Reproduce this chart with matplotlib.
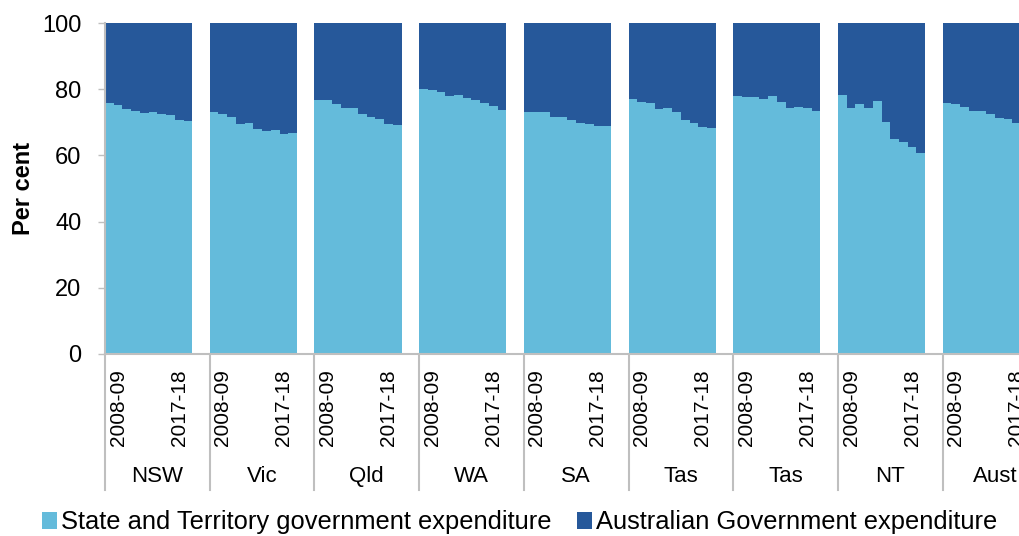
import matplotlib.pyplot as plt
import matplotlib.transforms as mtransforms
import numpy as np

plt.rcParams['font.family'] = ['Liberation Sans', 'DejaVu Sans']

regions = ['NSW', 'Vic', 'Qld', 'WA', 'SA', 'Tas', 'Tas', 'NT', 'Aust']
years = ['2008-09', '2009-10', '2010-11', '2011-12', '2012-13',
         '2013-14', '2014-15', '2015-16', '2016-17', '2017-18']

# state and territory share (per cent), 2008-09 .. 2017-18
nsw = [75.7, 75.2, 74.0, 73.5, 72.9, 73.0, 72.6, 72.3, 70.7, 70.3]
vic = [73.1, 72.4, 71.5, 69.5, 69.7, 68.1, 67.4, 67.6, 66.4, 66.9]
qld = [76.7, 76.7, 75.6, 74.2, 74.2, 72.6, 71.6, 70.9, 69.5, 69.3]
wa = [80.0, 79.8, 79.3, 77.9, 78.1, 77.4, 76.7, 75.7, 75.0, 73.6]
sa = [73.0, 73.0, 73.2, 71.7, 71.5, 70.6, 69.7, 69.5, 68.9, 68.9]
tas1 = [77.1, 76.2, 75.7, 74.1, 74.4, 73.0, 70.7, 69.7, 68.5, 68.2]
tas2 = [77.9, 77.7, 77.5, 76.9, 77.9, 76.0, 74.4, 74.6, 74.3, 73.4]
nt = [78.1, 74.2, 75.6, 74.4, 76.5, 70.1, 65.0, 63.9, 62.5, 60.7]
aust = [75.8, 75.5, 74.6, 73.3, 73.3, 72.4, 71.4, 71.0, 69.7, 69.3]

state_share = [nsw, vic, qld, wa, sa, tas1, tas2, nt, aust]

light = '#64BBDB'
dark = '#26589A'
grey = '#BFBFBF'

fig = plt.figure(figsize=(10.19, 5.36), dpi=100)
ax = fig.add_axes([105/1019, 1 - 354/536, 1 - 105/1019, 331/536])

slot = 12  # 10 years plus blank space per region
for g, vals in enumerate(state_share):
    x = g * slot + np.arange(len(years)) + 0.5
    st = np.array(vals)
    ax.bar(x, st, width=1.0, color=light, linewidth=0,
           label='State and Territory government expenditure' if g == 0 else None)
    ax.bar(x, 100 - st, bottom=st, width=1.0, color=dark, linewidth=0,
           label='Australian Government expenditure' if g == 0 else None)

ax.set_ylim(0, 100)
ax.set_xlim(0, 104.75)
ax.set_yticks(np.arange(0, 101, 20))
ax.tick_params(axis='y', labelsize=17, length=5, width=1, color=grey, pad=12)
ax.set_ylabel('Per cent', fontsize=17, fontweight='bold', labelpad=5)

ticks = []
labels = []
for g in range(len(regions)):
    ticks += [g * slot + 1.5, g * slot + 8.5]
    labels += [years[0], years[-1]]
ax.set_xticks(ticks)
ax.set_xticklabels(labels, rotation=90, fontsize=15)
ax.tick_params(axis='x', length=0, pad=11)

for s in ['top', 'right']:
    ax.spines[s].set_visible(False)
for s in ['left', 'bottom']:
    ax.spines[s].set_color(grey)
    ax.spines[s].set_linewidth(1.5)

# region separators and names below the axis
trans = mtransforms.blended_transform_factory(ax.transData, ax.transAxes)
for g in range(len(regions)):
    ax.plot([g * slot, g * slot], [0, -0.411], transform=trans, color=grey,
            linewidth=1.5, clip_on=False)
    ax.text(g * slot + 6, -0.37, regions[g], transform=trans, fontsize=16,
            ha='center', va='center')

fig.legend(loc='lower center', bbox_to_anchor=(0.51, -0.04), ncol=2,
           frameon=False, fontsize=18.4, handlelength=0.6, handleheight=0.6,
           handletextpad=0.15, columnspacing=1.0)

plt.savefig('out.png', dpi=100)
